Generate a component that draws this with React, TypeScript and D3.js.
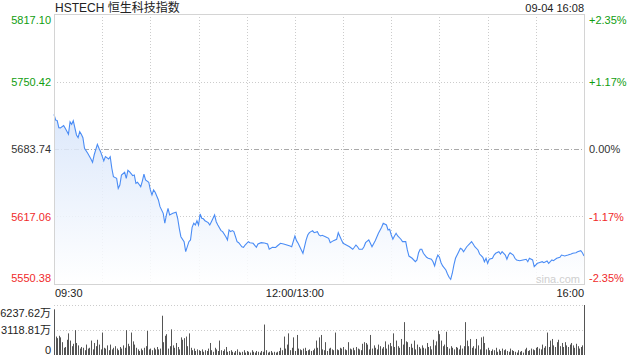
import React, { useEffect } from "react";
import * as d3 from "d3";

// HSTECH intraday, trading minutes from 09:30 (0..330, lunch removed)
const minutes = [
  0, 1, 2, 3, 4, 6, 7, 9, 10, 11, 12, 14, 15, 16, 17, 18, 19, 21, 23, 24, 25, 27, 28, 29, 31, 32, 34, 35, 36, 37, 39,
  40, 41, 42, 44, 45, 46, 47, 49, 50, 51, 52, 54, 55, 56, 57, 59, 60, 61, 62, 63, 65, 66, 68, 69, 70, 71, 72, 74, 76,
  77, 78, 79, 81, 82, 84, 85, 86, 87, 88, 89, 90, 91, 92, 93, 94, 96, 97, 98, 100, 101, 102, 104, 105, 107, 108, 109,
  110, 111, 112, 114, 115, 117, 118, 119, 121, 122, 124, 126, 127, 129, 131, 133, 134, 136, 138, 139, 141, 143, 145,
  147, 148, 150, 151, 152, 154, 155, 156, 157, 158, 159, 161, 162, 164, 165, 166, 167, 169, 171, 172, 174, 176, 177,
  179, 180, 182, 184, 186, 187, 188, 189, 190, 192, 193, 194, 196, 197, 198, 200, 202, 204, 205, 207, 208, 209, 210,
  211, 212, 213, 214, 216, 217, 219, 220, 221, 223, 225, 226, 227, 228, 229, 230, 232, 233, 235, 236, 237, 238, 239,
  240, 241, 242, 244, 245, 246, 247, 248, 249, 250, 252, 253, 254, 255, 257, 259, 260, 261, 262, 264, 265, 267, 268,
  269, 270, 271, 273, 274, 275, 277, 278, 279, 281, 282, 283, 284, 286, 287, 288, 290, 292, 294, 295, 296, 298, 299,
  301, 302, 304, 305, 307, 308, 310, 311, 313, 315, 316, 318, 320, 322, 323, 325, 326, 328, 329, 330,
];
const prices = [
  5718.0, 5712.4, 5711.8, 5704.8, 5704.6, 5706.8, 5704.2, 5698.3, 5710.7, 5708.2, 5711.7, 5697.6, 5694.9, 5700.9,
  5698.3, 5694.9, 5684.5, 5679.5, 5673.9, 5670.6, 5677.8, 5688.4, 5684.5, 5681.1, 5671.9, 5676.2, 5673.9, 5676.2,
  5664.7, 5656.4, 5654.8, 5644.9, 5648.2, 5658.1, 5660.7, 5654.8, 5662.7, 5661.3, 5657.4, 5658.1, 5649.9, 5650.9,
  5646.5, 5652.1, 5658.8, 5653.1, 5650.9, 5643.3, 5638.3, 5643.3, 5641.0, 5633.4, 5626.8, 5620.2, 5610.4, 5618.6,
  5625.2, 5618.6, 5620.2, 5621.2, 5615.3, 5605.4, 5597.1, 5592.2, 5582.3, 5592.2, 5593.9, 5606.4, 5610.4, 5608.7,
  5612.9, 5608.7, 5619.6, 5615.3, 5614.8, 5612.9, 5611.0, 5608.7, 5611.9, 5618.6, 5611.9, 5608.7, 5603.1, 5602.1,
  5597.1, 5593.9, 5603.7, 5602.1, 5603.1, 5602.1, 5592.2, 5591.2, 5587.2, 5586.7, 5588.9, 5592.2, 5591.2, 5590.6,
  5586.7, 5589.9, 5591.2, 5590.9, 5589.9, 5584.7, 5586.7, 5586.5, 5587.9, 5590.6, 5589.9, 5588.9, 5587.9, 5587.2,
  5597.8, 5593.2, 5590.6, 5584.0, 5580.7, 5587.2, 5593.9, 5598.8, 5601.1, 5603.1, 5601.1, 5602.1, 5598.8, 5597.8,
  5598.5, 5597.1, 5595.5, 5591.2, 5593.2, 5594.6, 5601.1, 5593.9, 5590.6, 5588.9, 5587.2, 5584.7, 5586.7, 5588.9,
  5587.2, 5584.7, 5584.7, 5587.2, 5591.2, 5593.9, 5590.6, 5587.2, 5593.2, 5600.5, 5606.4, 5610.4, 5608.7, 5603.7,
  5604.4, 5598.8, 5594.6, 5597.8, 5600.5, 5597.8, 5594.6, 5592.2, 5592.2, 5584.0, 5578.0, 5575.8, 5572.4, 5574.1,
  5581.3, 5584.7, 5584.7, 5580.7, 5576.8, 5575.8, 5574.8, 5572.4, 5568.2, 5574.8, 5579.0, 5576.8, 5571.4, 5568.2,
  5564.2, 5560.3, 5557.0, 5555.0, 5561.0, 5569.2, 5575.8, 5582.3, 5585.7, 5584.7, 5582.3, 5587.2, 5590.6, 5592.2,
  5589.9, 5587.2, 5584.0, 5580.0, 5576.8, 5572.4, 5575.8, 5570.8, 5574.8, 5575.8, 5579.0, 5580.7, 5582.3, 5580.0,
  5582.3, 5579.0, 5574.8, 5579.0, 5581.3, 5579.0, 5575.8, 5574.1, 5573.4, 5574.1, 5574.8, 5572.4, 5575.8, 5574.1,
  5567.5, 5570.8, 5571.4, 5572.4, 5571.4, 5573.1, 5570.8, 5574.1, 5573.4, 5575.8, 5576.8, 5579.0, 5578.1, 5579.0,
  5580.0, 5580.7, 5581.3, 5582.3, 5583.3, 5581.3, 5578.1,
];

// volume per minute, 万
const volumes = [
  5700, 2300, 2100, 2400, 2200, 1600, 900, 1000, 1900, 2700,
  1800, 1100, 1400, 3100, 1500, 1200, 800, 1000, 900, 600,
  1300, 800, 900, 1800, 700, 1500, 1100, 1900, 1300, 700,
  2800, 900, 800, 1200, 600, 1300, 700, 900, 1100, 800,
  600, 1000, 800, 1200, 900, 3100, 1400, 1100, 2800, 1700,
  1300, 900, 700, 500, 800, 600, 900, 1100, 3000, 700,
  800, 600, 900, 700, 1000, 700, 800, 4900, 1600, 2400,
  2600, 800, 1100, 3200, 1200, 900, 1500, 1000, 700, 2200,
  1900, 2100, 2300, 1100, 2700, 900, 600, 800, 500, 700,
  600, 500, 700, 400, 600, 500, 800, 1500, 600, 400,
  900, 700, 500, 1800, 600, 500, 700, 1000, 400, 500,
  600, 400, 300, 500, 700, 400, 300, 400, 600, 300,
  500, 400, 300, 600, 400, 300, 500, 400, 300, 500,
  400, 3800, 600, 300, 400, 500, 300, 400, 300, 400,
  500, 900, 600, 2300, 800, 1300, 2700, 600, 900, 2200,
  500, 2500, 800, 700, 600, 800, 900, 500, 600, 700,
  500, 600, 800, 1800, 900, 2200, 2500, 700, 600, 1600,
  500, 800, 900, 700, 600, 2800, 700, 600, 900, 800,
  1000, 700, 600, 1600, 800, 700, 900, 600, 1000, 800,
  700, 600, 1400, 1600, 1500, 1300, 700, 2500, 800, 1200,
  900, 700, 1300, 1100, 800, 1000, 1700, 800, 1300, 1500,
  1100, 2700, 1000, 1800, 1100, 900, 2000, 1300, 4100, 1700,
  1600, 1000, 1400, 900, 1800, 700, 1300, 1000, 800, 1200,
  900, 800, 1500, 1000, 1100, 700, 1900, 1200, 1700, 3000,
  2600, 1800, 1100, 1300, 2900, 1000, 800, 1100, 900, 700,
  1000, 900, 700, 1200, 800, 1100, 4100, 1800, 1100, 2000,
  900, 1100, 800, 2000, 1200, 700, 2200, 2300, 1500, 700,
  900, 600, 500, 700, 600, 900, 400, 700, 500, 800,
  600, 700, 500, 400, 800, 600, 500, 400, 300, 600,
  400, 500, 300, 700, 900, 500, 600, 800, 700, 600,
  900, 1000, 800, 700, 1300, 900, 1100, 2800, 1000, 1800,
  2000, 1200, 1000, 1600, 1900, 1100, 1500, 1000, 1600, 1200,
  1000, 1300, 1500, 1200, 900, 1400, 1100, 800, 1000, 1200,
  6237.62,
];

const prevClose = 5683.74;
const priceTicks = [5817.1, 5750.42, 5683.74, 5617.06, 5550.38];
const pctTicks = ["+2.35%", "+1.17%", "0.00%", "-1.17%", "-2.35%"];
const volTicks = [6237.62, 3118.81, 0];
const volLabels = ["6237.62万", "3118.81万", "0"];
const timeTicks = [0, 150, 330];
const timeLabels = ["09:30", "12:00/13:00", "16:00"];
const gridMinutes = [30, 60, 90, 120, 150, 180, 210, 240, 270, 300];

const W = 640;
const H = 360;
const L = 54;
const R = 584;
const TOP = 14;
const BOT = 284;
const VTOP = 305;
const VBOT = 355;

const GREEN = "#109d10";
const RED = "#f02a2a";
const DARK = "#333";
const FONT = "Arial, 'Liberation Sans', 'Noto Sans CJK SC', sans-serif";

const x = d3.scaleLinear().domain([0, 330]).range([L, R]);
const y = d3.scaleLinear().domain([5550.38, 5817.1]).range([BOT, TOP]);
const yv = d3.scaleLinear().domain([0, 6237.62]).range([VBOT, VTOP]);

const tickColor = (v: number) => (v > prevClose + 0.01 ? GREEN : v < prevClose - 0.01 ? RED : DARK);

export default function App() {
  useEffect(() => {
    document.body.style.margin = "0";
  }, []);

  const pts = minutes.map((m, i) => [m, prices[i]] as [number, number]);
  const line = d3
    .line<[number, number]>()
    .x((d) => x(d[0]))
    .y((d) => y(d[1]));
  const area = d3
    .area<[number, number]>()
    .x((d) => x(d[0]))
    .y0(BOT)
    .y1((d) => y(d[1]));

  const labelY = (v: number) => {
    const py = y(v);
    if (py < TOP + 8) return TOP + 10;
    if (py > BOT - 8) return BOT - 2;
    return py + 4;
  };

  return (
    <svg width={W} height={H} style={{ display: "block", fontFamily: FONT }}>
      <defs>
        <linearGradient id="fill" x1="0" y1="0" x2="0" y2="1">
          <stop offset="0%" stopColor="#d6e4fa" />
          <stop offset="100%" stopColor="#ffffff" />
        </linearGradient>
      </defs>
      <rect width={W} height={H} fill="#fff" />

      <text x={L + 1} y={12} fontSize={12} fill="#222">
        HSTECH 恒生科技指数
      </text>
      <text x={R} y={12} fontSize={11} fill="#222" textAnchor="end">
        09-04 16:08
      </text>

      {/* price grid */}
      {gridMinutes.map((m) => (
        <line key={m} x1={Math.round(x(m)) + 0.5} x2={Math.round(x(m)) + 0.5} y1={TOP} y2={BOT} stroke="#ccc" strokeDasharray="1,2" />
      ))}
      {priceTicks.slice(1, 4).map((v) => (
        <line
          key={v}
          x1={L}
          x2={R}
          y1={Math.round(y(v)) + 0.5}
          y2={Math.round(y(v)) + 0.5}
          stroke={v === prevClose ? "#aaa" : "#ccc"}
          strokeDasharray={v === prevClose ? "5,2,1,2" : "1,2"}
        />
      ))}

      <path d={area(pts) || ""} fill="url(#fill)" opacity={0.85} />
      <path d={line(pts) || ""} fill="none" stroke="#4a8cf5" strokeWidth={1.1} />

      <rect x={L + 0.5} y={TOP + 0.5} width={R - L} height={BOT - TOP} fill="none" stroke="#d4d4d4" />

      {priceTicks.map((v, i) => (
        <g key={v}>
          <text x={51} y={labelY(v)} fontSize={11} fill={tickColor(v)} textAnchor="end">
            {v.toFixed(2)}
          </text>
          <text x={589} y={labelY(v)} fontSize={11} fill={tickColor(v)}>
            {pctTicks[i]}
          </text>
        </g>
      ))}

      <text x={536} y={283} fontSize={11} fill="#cfcfcf">
        sina.com
      </text>

      {timeTicks.map((m, i) => (
        <text
          key={m}
          x={i === 0 ? L + 1 : i === 2 ? R : x(m)}
          y={297}
          fontSize={11}
          fill="#222"
          textAnchor={i === 0 ? "start" : i === 2 ? "end" : "middle"}
        >
          {timeLabels[i]}
        </text>
      ))}

      {/* volume */}
      {volTicks.slice(0, 2).map((v) => (
        <line key={v} x1={L} x2={R} y1={Math.round(yv(v)) + 0.5} y2={Math.round(yv(v)) + 0.5} stroke="#ccc" strokeDasharray="1,2" />
      ))}
      {volumes.map((v, i) => (
        <rect key={i} x={Math.round(x(i))} y={yv(v)} width={1} height={VBOT - yv(v)} fill="#555" />
      ))}
      {volTicks.map((v, i) => (
        <text
          key={v}
          x={51}
          y={i === 0 ? yv(v) + 12 : i === 2 ? VBOT - 1 : yv(v) + 4}
          fontSize={11}
          fill="#222"
          textAnchor="end"
        >
          {volLabels[i]}
        </text>
      ))}
    </svg>
  );
}
